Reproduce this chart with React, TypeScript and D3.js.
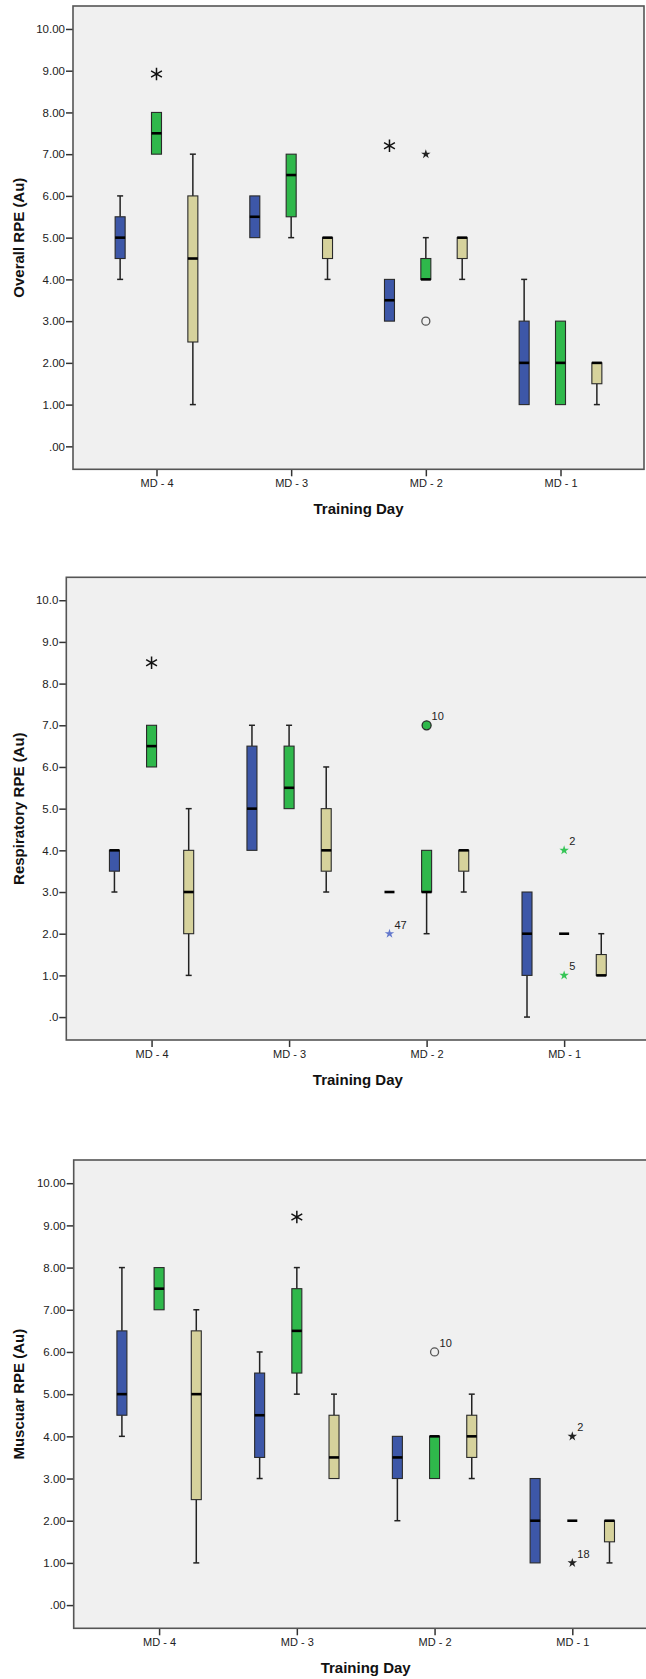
import { useRef, useEffect } from "react";
import * as d3 from "d3";

const days = ["MD - 4", "MD - 3", "MD - 2", "MD - 1"];
const groups = ["blue", "green", "khaki"];
const groupColors = ["#3d57a8", "#2fb84b", "#d6d29c"];
const starColors = ["#6378cc", "#35c556", "#222222"];

const tickValues = [0, 1, 2, 3, 4, 5, 6, 7, 8, 9, 10];
const tickLabels2 = [".00", "1.00", "2.00", "3.00", "4.00", "5.00", "6.00", "7.00", "8.00", "9.00", "10.00"];
const tickLabels1 = [".0", "1.0", "2.0", "3.0", "4.0", "5.0", "6.0", "7.0", "8.0", "9.0", "10.0"];

// [low whisker, q1, median, q3, high whisker] per training day
const overallBlue = [[4, 4.5, 5, 5.5, 6], [5, 5, 5.5, 6, 6], [3, 3, 3.5, 4, 4], [1, 1, 2, 3, 4]];
const overallGreen = [[7, 7, 7.5, 8, 8], [5, 5.5, 6.5, 7, 7], [4, 4, 4, 4.5, 5], [1, 1, 2, 3, 3]];
const overallKhaki = [[1, 2.5, 4.5, 6, 7], [4, 4.5, 5, 5, 5], [4, 4.5, 5, 5, 5], [1, 1.5, 2, 2, 2]];

const respBlue = [[3, 3.5, 4, 4, 4], [4, 4, 5, 6.5, 7], [3, 3, 3, 3, 3], [0, 1, 2, 3, 3]];
const respGreen = [[6, 6, 6.5, 7, 7], [5, 5, 5.5, 6.5, 7], [2, 3, 3, 4, 4], [2, 2, 2, 2, 2]];
const respKhaki = [[1, 2, 3, 4, 5], [3, 3.5, 4, 5, 6], [3, 3.5, 4, 4, 4], [1, 1, 1, 1.5, 2]];

const muscBlue = [[4, 4.5, 5, 6.5, 8], [3, 3.5, 4.5, 5.5, 6], [2, 3, 3.5, 4, 4], [1, 1, 2, 3, 3]];
const muscGreen = [[7, 7, 7.5, 8, 8], [5, 5.5, 6.5, 7.5, 8], [3, 3, 4, 4, 4], [2, 2, 2, 2, 2]];
const muscKhaki = [[1, 2.5, 5, 6.5, 7], [3, 3, 3.5, 4.5, 5], [3, 3.5, 4, 4.5, 5], [1, 1.5, 2, 2, 2]];

// outliers: circle = outlier, star = extreme
const overallOutliers = [
  { day: "MD - 2", group: "green", value: 3, kind: "circle", label: "" },
  { day: "MD - 2", group: "green", value: 7, kind: "star", label: "" },
];
const respOutliers = [
  { day: "MD - 2", group: "blue", value: 2, kind: "star", label: "47" },
  { day: "MD - 2", group: "green", value: 7, kind: "circle", label: "10" },
  { day: "MD - 1", group: "green", value: 4, kind: "star", label: "2" },
  { day: "MD - 1", group: "green", value: 1, kind: "star", label: "5" },
];
const muscOutliers = [
  { day: "MD - 2", group: "green", value: 6, kind: "circle", label: "10" },
  { day: "MD - 1", group: "green", value: 4, kind: "star", label: "2" },
  { day: "MD - 1", group: "green", value: 1, kind: "star", label: "18" },
];

// significance asterisks
const overallSig = [
  { day: "MD - 4", group: "green", value: 8.92 },
  { day: "MD - 2", group: "blue", value: 7.2 },
];
const respSig = [{ day: "MD - 4", group: "green", value: 8.5 }];
const muscSig = [{ day: "MD - 3", group: "green", value: 9.2 }];

const panels = [
  {
    title: "Overall RPE (Au)",
    boxes: [overallBlue, overallGreen, overallKhaki],
    outliers: overallOutliers,
    sig: overallSig,
    labels: tickLabels2,
    coloured: false,
    frame: { left: 73, right: 644, top: 6, bottom: 469.3 },
  },
  {
    title: "Respiratory RPE (Au)",
    boxes: [respBlue, respGreen, respKhaki],
    outliers: respOutliers,
    sig: respSig,
    labels: tickLabels1,
    coloured: true,
    frame: { left: 66.3, right: 649.4, top: 577.3, bottom: 1040 },
  },
  {
    title: "Muscuar RPE (Au)",
    boxes: [muscBlue, muscGreen, muscKhaki],
    outliers: muscOutliers,
    sig: muscSig,
    labels: tickLabels2,
    coloured: false,
    frame: { left: 73.7, right: 657.7, top: 1160, bottom: 1628.3 },
  },
];

const FONT = "'Liberation Sans', Arial, sans-serif";

const App = () => {
  const ref = useRef<SVGSVGElement>(null);

  useEffect(() => {
    const svg = d3.select(ref.current);
    svg.selectAll("*").remove();

    panels.forEach(p => {
      const f = p.frame;
      const g = svg.append("g");

      const x = d3.scalePoint<string>().domain(days).range([f.left, f.right]).padding(0.62);
      const step = x.step();
      const xg = d3.scalePoint<string>().domain(groups).range([-0.27 * step, 0.27 * step]);
      const y = d3.scaleLinear().domain([-0.55, 10.55]).range([f.bottom, f.top]);
      const cx = (day: string, group: string) => (x(day) as number) + (xg(group) as number);

      g.append("rect")
        .attr("x", f.left)
        .attr("y", f.top)
        .attr("width", f.right - f.left)
        .attr("height", f.bottom - f.top)
        .attr("fill", "#f0f0f0");

      const yAxis = g
        .append("g")
        .attr("transform", `translate(${f.left}, 0)`)
        .call(
          d3.axisLeft(y)
            .tickValues(tickValues)
            .tickFormat((_d, i) => p.labels[i])
            .tickSize(7)
            .tickPadding(1)
        );
      yAxis.select(".domain").remove();
      yAxis.selectAll("line").attr("stroke", "#333").attr("stroke-width", 1.5);
      yAxis.selectAll("text").attr("font-family", FONT).attr("font-size", 11.5).attr("fill", "#222");

      const xAxis = g
        .append("g")
        .attr("transform", `translate(0, ${f.bottom})`)
        .call(d3.axisBottom(x).tickSize(7).tickPadding(3));
      xAxis.select(".domain").remove();
      xAxis.selectAll("line").attr("stroke", "#333").attr("stroke-width", 1.5);
      xAxis.selectAll("text").attr("font-family", FONT).attr("font-size", 11).attr("fill", "#222");

      g.append("rect")
        .attr("x", f.left)
        .attr("y", f.top)
        .attr("width", f.right - f.left)
        .attr("height", f.bottom - f.top)
        .attr("fill", "none")
        .attr("stroke", "#555")
        .attr("stroke-width", 1.6);

      // boxes
      p.boxes.forEach((series, gi) => {
        series.forEach((q, di) => {
          const c = cx(days[di], groups[gi]);
          const [lo, q1, med, q3, hi] = q;
          const w = 10;
          const whisker = (a: number, b: number) => {
            g.append("line")
              .attr("x1", c).attr("x2", c)
              .attr("y1", y(a)).attr("y2", y(b))
              .attr("stroke", "#222").attr("stroke-width", 1.5);
            g.append("line")
              .attr("x1", c - 3).attr("x2", c + 3)
              .attr("y1", y(b)).attr("y2", y(b))
              .attr("stroke", "#222").attr("stroke-width", 1.5);
          };
          if (lo < q1) whisker(q1, lo);
          if (hi > q3) whisker(q3, hi);
          if (q3 > q1) {
            g.append("rect")
              .attr("x", c - w / 2)
              .attr("y", y(q3))
              .attr("width", w)
              .attr("height", y(q1) - y(q3))
              .attr("fill", groupColors[gi])
              .attr("stroke", "#2a2a2a")
              .attr("stroke-width", 1.1);
          }
          g.append("line")
            .attr("x1", c - w / 2).attr("x2", c + w / 2)
            .attr("y1", y(med)).attr("y2", y(med))
            .attr("stroke", "#000").attr("stroke-width", 2.6);
        });
      });

      // outliers and extremes
      p.outliers.forEach(o => {
        const gi = groups.indexOf(o.group);
        const c = cx(o.day, o.group);
        const yy = y(o.value);
        if (o.kind === "circle") {
          g.append("circle")
            .attr("cx", c).attr("cy", yy).attr("r", p.coloured ? 4.5 : 4)
            .attr("fill", p.coloured ? groupColors[gi] : "none")
            .attr("stroke", p.coloured ? "#2a2a2a" : "#555")
            .attr("stroke-width", 1.3);
        } else {
          g.append("path")
            .attr("transform", `translate(${c}, ${yy})`)
            .attr("d", d3.symbol(d3.symbolStar, 28)())
            .attr("fill", p.coloured ? starColors[gi] : "#222");
        }
        if (o.label) {
          g.append("text")
            .attr("x", c + 5)
            .attr("y", yy - 5)
            .attr("font-family", FONT)
            .attr("font-size", 11)
            .attr("fill", "#222")
            .text(o.label);
        }
      });

      // significance asterisks
      p.sig.forEach(s => {
        g.append("path")
          .attr("transform", `translate(${cx(s.day, s.group)}, ${y(s.value)})`)
          .attr("d", d3.symbol(d3.symbolAsterisk, 110)())
          .attr("fill", "none")
          .attr("stroke", "#111")
          .attr("stroke-width", 1.5);
      });

      // axis titles
      g.append("text")
        .attr("transform", `translate(24, ${(f.top + f.bottom) / 2}) rotate(-90)`)
        .attr("text-anchor", "middle")
        .attr("font-family", FONT)
        .attr("font-weight", "bold")
        .attr("font-size", 15)
        .attr("fill", "#111")
        .text(p.title);

      g.append("text")
        .attr("x", (f.left + f.right) / 2)
        .attr("y", f.bottom + 45)
        .attr("text-anchor", "middle")
        .attr("font-family", FONT)
        .attr("font-weight", "bold")
        .attr("font-size", 15)
        .attr("fill", "#111")
        .text("Training Day");
    });
  }, []);

  return (
    <svg
      ref={ref}
      width={646}
      height={1679}
      style={{ position: "absolute", left: 0, top: 0, display: "block", background: "#fff" }}
    />
  );
};

export default App;
